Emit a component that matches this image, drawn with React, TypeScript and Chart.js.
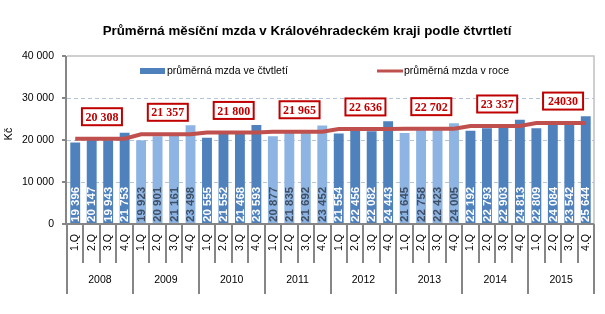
import React, { useEffect, useRef } from 'react';
import { Chart, registerables } from 'chart.js';

Chart.register(...registerables);

const title = 'Průměrná měsíční mzda v Královéhradeckém kraji podle čtvrtletí';
const years = ['2008', '2009', '2010', '2011', '2012', '2013', '2014', '2015'];
const quarters = ['1.Q', '2.Q', '3.Q', '4.Q'];
const quarterlyWage = [
  19396, 20147, 19943, 21753,
  19923, 20901, 21161, 23498,
  20555, 21552, 21468, 23593,
  20877, 21835, 21692, 23452,
  21554, 22456, 22082, 24443,
  21645, 22758, 22423, 24005,
  22192, 22793, 22903, 24813,
  22809, 24084, 23542, 25644,
];
const annualWage = [20308, 21357, 21800, 21965, 22636, 22702, 23337, 24030];
const annualLabels = ['20 308', '21 357', '21 800', '21 965', '22 636', '22 702', '23 337', '24030'];
const yTicks = [0, 10000, 20000, 30000, 40000];
const seriesNames = ['průměrná mzda ve čtvtletí', 'průměrná mzda v roce'];
const yTitle = 'Kč';
const lightYears = [false, true, false, true, false, true, false, false];

const DARK = '#4F81BD';
const LIGHT = '#8DB4E2';
const RED_LINE = '#C0504D';
const RED_BOX = '#C00000';
const AXIS = '#868686';
const FONT = '"Liberation Sans", Arial, sans-serif';

const fmt = (n: number) => n.toString().replace(/\B(?=(\d{3})+(?!\d))/g, ' ');

const categories = years.flatMap((y) => quarters.map((q) => `${y} ${q}`));
const lineData = years.flatMap((_, i) => quarters.map(() => annualWage[i]));
const barColors = years.flatMap((_, i) => quarters.map(() => (lightYears[i] ? LIGHT : DARK)));
const barTextColors = years.flatMap((_, i) => quarters.map(() => (lightYears[i] ? '#3E4F66' : '#FFFFFF')));

const decor = {
  id: 'decor',
  beforeDatasetsDraw(chart: any) {
    const { ctx, chartArea: a, scales } = chart;
    const y = scales.y;
    ctx.save();
    ctx.strokeStyle = '#B4C4DC';
    ctx.lineWidth = 1;
    ctx.setLineDash([4, 3]);
    yTicks.slice(1, -1).forEach((t) => {
      const py = Math.round(y.getPixelForValue(t)) + 0.5;
      ctx.beginPath();
      ctx.moveTo(a.left, py);
      ctx.lineTo(a.right, py);
      ctx.stroke();
    });
    ctx.setLineDash([]);
    ctx.strokeStyle = '#C0C0C0';
    ctx.lineWidth = 1.5;
    ctx.beginPath();
    ctx.moveTo(a.left, a.top);
    ctx.lineTo(a.right, a.top);
    ctx.lineTo(a.right, a.bottom);
    ctx.stroke();
    ctx.restore();
  },
  afterDatasetsDraw(chart: any) {
    const { ctx, chartArea: a, scales } = chart;
    const x = scales.x;
    const y = scales.y;
    ctx.save();

    // bar value labels
    const barMeta = chart.getDatasetMeta(1);
    ctx.font = `bold 11.5px ${FONT}`;
    ctx.textBaseline = 'middle';
    ctx.textAlign = 'left';
    barMeta.data.forEach((el: any, i: number) => {
      ctx.save();
      ctx.translate(el.x + 0.5, a.bottom - 2);
      ctx.rotate(-Math.PI / 2);
      ctx.fillStyle = barTextColors[i];
      ctx.fillText(fmt(quarterlyWage[i]), 0, 0);
      ctx.restore();
    });

    // y axis
    ctx.strokeStyle = AXIS;
    ctx.lineWidth = 2;
    ctx.beginPath();
    ctx.moveTo(a.left - 1, a.top);
    ctx.lineTo(a.left - 1, a.bottom + 1);
    ctx.stroke();
    yTicks.forEach((t) => {
      const py = Math.round(y.getPixelForValue(t));
      ctx.beginPath();
      ctx.moveTo(a.left - 5, py);
      ctx.lineTo(a.left - 1, py);
      ctx.stroke();
    });

    // x axis
    ctx.beginPath();
    ctx.moveTo(a.left - 2, a.bottom);
    ctx.lineTo(a.right, a.bottom);
    ctx.stroke();

    const step = (x.getPixelForValue(1) - x.getPixelForValue(0));
    for (let i = 0; i <= categories.length; i++) {
      const px = Math.round(x.getPixelForValue(i) - step / 2);
      const isYear = i % quarters.length === 0;
      ctx.beginPath();
      ctx.moveTo(px, a.bottom);
      ctx.lineTo(px, isYear ? a.bottom + 70 : a.bottom + 39);
      ctx.stroke();
    }

    // quarter labels
    ctx.fillStyle = '#000';
    ctx.font = `10.5px ${FONT}`;
    ctx.textAlign = 'right';
    ctx.textBaseline = 'middle';
    categories.forEach((_, i) => {
      ctx.save();
      ctx.translate(x.getPixelForValue(i), a.bottom + 10);
      ctx.rotate(-Math.PI / 2);
      ctx.fillText(quarters[i % quarters.length], 0, 0);
      ctx.restore();
    });

    // year labels
    ctx.textAlign = 'center';
    years.forEach((yr, i) => {
      const cx = (x.getPixelForValue(i * 4 + 1) + x.getPixelForValue(i * 4 + 2)) / 2;
      ctx.fillText(yr, cx, a.bottom + 56);
    });

    // annual boxes
    ctx.font = `bold 12px "Liberation Serif", "Times New Roman", serif`;
    annualWage.forEach((v, i) => {
      const cx = (x.getPixelForValue(i * 4 + 1) + x.getPixelForValue(i * 4 + 2)) / 2 + 2;
      const cy = y.getPixelForValue(v) - 22;
      const w = 40;
      const h = 17;
      ctx.fillStyle = '#FFFFFF';
      ctx.fillRect(cx - w / 2, cy - h / 2, w, h);
      ctx.strokeStyle = RED_BOX;
      ctx.lineWidth = 2;
      ctx.strokeRect(cx - w / 2, cy - h / 2, w, h);
      ctx.fillStyle = RED_BOX;
      ctx.textAlign = 'center';
      ctx.textBaseline = 'middle';
      ctx.fillText(annualLabels[i], cx, cy + 1);
    });

    // legend
    ctx.font = `10.5px ${FONT}`;
    ctx.textAlign = 'left';
    ctx.textBaseline = 'middle';
    ctx.fillStyle = DARK;
    ctx.fillRect(140, 68, 25, 6);
    ctx.fillStyle = '#000';
    ctx.fillText(seriesNames[0], 167, 71.5);
    ctx.strokeStyle = RED_LINE;
    ctx.lineWidth = 3;
    ctx.beginPath();
    ctx.moveTo(377, 71);
    ctx.lineTo(403, 71);
    ctx.stroke();
    ctx.fillText(seriesNames[1], 404, 71.5);

    // title
    ctx.font = `bold 13.3px ${FONT}`;
    ctx.textAlign = 'center';
    ctx.fillText(title, 307, 31);

    // y title
    ctx.font = `10.5px ${FONT}`;
    ctx.save();
    ctx.translate(9, 134);
    ctx.rotate(-Math.PI / 2);
    ctx.fillText(yTitle, 0, 0);
    ctx.restore();

    ctx.restore();
  },
};

export default function App() {
  const ref = useRef<HTMLCanvasElement | null>(null);
  useEffect(() => {
    if (!ref.current) return;
    const chart = new Chart(ref.current, {
      type: 'bar',
      data: {
        labels: categories,
        datasets: [
          {
            type: 'line',
            label: seriesNames[1],
            data: lineData,
            borderColor: RED_LINE,
            borderWidth: 4,
            pointRadius: 0,
            tension: 0,
            order: 0,
          } as any,
          {
            type: 'bar',
            label: seriesNames[0],
            data: quarterlyWage,
            backgroundColor: barColors,
            barPercentage: 0.6,
            categoryPercentage: 1,
            order: 1,
          },
        ],
      },
      options: {
        animation: false,
        responsive: false,
        maintainAspectRatio: false,
        layout: { padding: { top: 56, right: 11, bottom: 90, left: 0 } },
        plugins: { legend: { display: false }, tooltip: { enabled: false }, title: { display: false } },
        scales: {
          x: { display: false, offset: true },
          y: {
            min: 0,
            max: 40000,
            afterFit: (s: any) => { s.width = 67; },
            ticks: {
              stepSize: 10000,
              padding: 13,
              color: '#000',
              font: { family: FONT, size: 10.5 },
              callback: (v: any) => fmt(Number(v)),
            },
            grid: { display: false, drawTicks: false },
            border: { display: false },
          },
        },
      },
      plugins: [decor],
    });
    return () => chart.destroy();
  }, []);
  return (
    <div style={{ position: 'fixed', left: 0, top: 0, width: 605, height: 314, background: '#fff' }}>
      <canvas ref={ref} width={605} height={314} style={{ width: 605, height: 314 }} />
    </div>
  );
}
